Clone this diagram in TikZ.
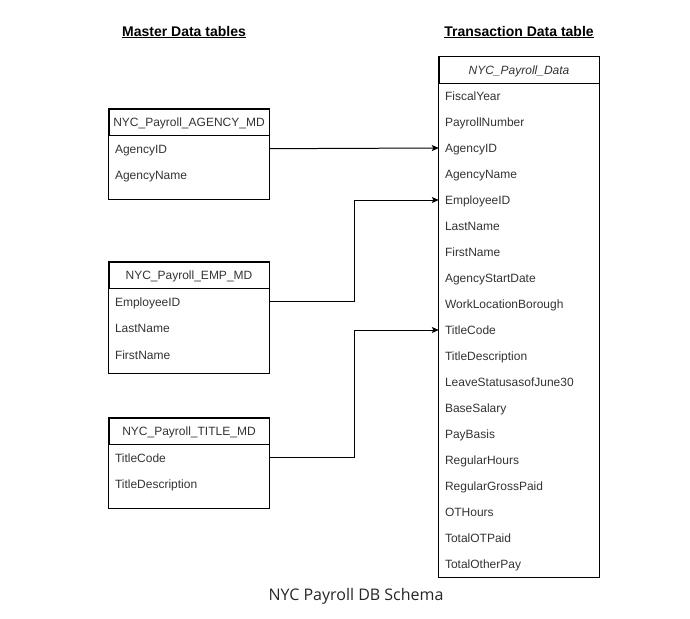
\documentclass[tikz,border=0pt]{standalone}
\usepackage{fontspec}
\setmainfont{Liberation Sans}
\newfontfamily\capfont{Open Sans}
\usetikzlibrary{arrows.meta,positioning}

\tikzset{
  tabhead/.style={draw, line width=1pt, minimum width=160pt, minimum height=26pt, inner sep=0pt, text height=10.5pt, text depth=1.5pt, text=black!80, font=\fontsize{12}{14}\selectfont},
  tabrow/.style={minimum height=26pt, text width=148pt, inner xsep=6pt, inner ysep=0pt, text height=10.5pt, text depth=1.5pt, align=left, text=black!80, font=\fontsize{12}{14}\selectfont},
  frame/.style={draw, line width=1pt},
  link/.style={draw, line width=1pt, -{Stealth[length=7pt,width=6pt,inset=1.5pt]}},
  title/.style={font=\fontsize{14}{16}\selectfont\bfseries}
}

\begin{document}
\begin{tikzpicture}[x=1pt, y=-1pt]
    \useasboundingbox (0,0) rectangle (690,618);

    \node[title] (mtitle) at (184,32) {\underline{Master Data tables}};
    \node[title] (ttitle) at (519,32) {\underline{Transaction Data table}};

    % master tables
    \node[tabhead] (ahead) at (189,122) {NYC\_Payroll\_AGENCY\_MD};
    \node[tabrow, below=0pt of ahead] (aid) {AgencyID};
    \node[tabrow, below=0pt of aid] (aname) {AgencyName};
    \draw[frame] (ahead.north west) rectangle ([yshift=-11pt]aname.south east);

    \node[tabhead] (ehead) at (189,275) {NYC\_Payroll\_EMP\_MD};
    \node[tabrow, below=0pt of ehead] (eid) {EmployeeID};
    \node[tabrow, below=0pt of eid] (elast) {LastName};
    \node[tabrow, below=0pt of elast] (efirst) {FirstName};
    \draw[frame] (ehead.north west) rectangle ([yshift=-6pt]efirst.south east);

    \node[tabhead] (thead) at (189,431) {NYC\_Payroll\_TITLE\_MD};
    \node[tabrow, below=0pt of thead] (tcode) {TitleCode};
    \node[tabrow, below=0pt of tcode] (tdesc) {TitleDescription};
    \draw[frame] (thead.north west) rectangle ([yshift=-11pt]tdesc.south east);

    % transaction table
    \node[tabhead] (dhead) at (519,70) {\itshape NYC\_Payroll\_Data};
    \foreach \f [count=\i] in {FiscalYear,PayrollNumber,AgencyID,AgencyName,EmployeeID,LastName,FirstName,AgencyStartDate,WorkLocationBorough,TitleCode,TitleDescription,LeaveStatusasofJune30,BaseSalary,PayBasis,RegularHours,RegularGrossPaid,OTHours,TotalOTPaid,TotalOtherPay}
        \node[tabrow] (d-\f) at (519,{70+26*\i}) {\f};
    \draw[frame] (dhead.north west) rectangle (d-TotalOtherPay.south east);

    \draw[link] (aid.east) -- (d-AgencyID.west);
    \draw[link] (eid.east) -- ++(85,0) |- (d-EmployeeID.west);
    \draw[link] (tcode.east) -- ++(85,0) |- (d-TitleCode.west);

    \node[font=\capfont\fontsize{16}{18}\selectfont, text=black!85] (caption) at (356,596) {NYC Payroll DB Schema};
\end{tikzpicture}
\end{document}
